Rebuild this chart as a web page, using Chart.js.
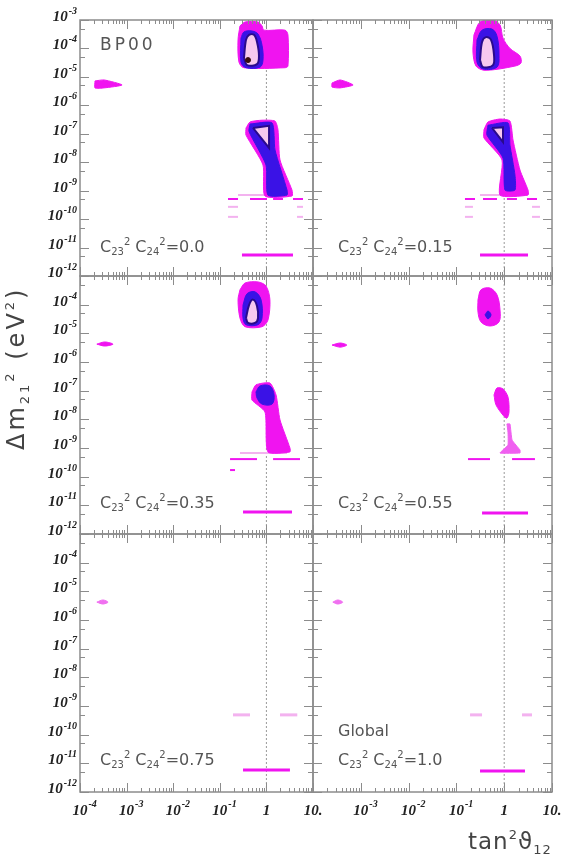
<!DOCTYPE html>
<html>
<head>
<meta charset="utf-8">
<script src="https://cdn.jsdelivr.net/npm/chart.js@4.4.1/dist/chart.umd.min.js"></script>
<style>
  body { margin: 0; background: #fff; }
  #fig { position: relative; width: 570px; height: 854px; overflow: hidden; }
  #fig canvas { position: absolute; left: 0; top: 0; }
  .lbl { position: absolute; font-family: 'DejaVu Sans', sans-serif; color: #555; font-size: 16px; line-height: 16px; white-space: nowrap; }
  .lbl sub, .lbl sup { font-size: 10px; line-height: 0; vertical-align: baseline; position: relative; }
  .lbl sub { top: 3px; }
  .lbl sup { top: -7px; }
  .title { position: absolute; font-family: 'DejaVu Sans', sans-serif; color: #444; font-size: 23px; line-height: 26px; white-space: nowrap; letter-spacing: 1px; }
  .title sub, .title sup { font-size: 13px; line-height: 0; vertical-align: baseline; position: relative; }
  .title sub { top: 5px; }
  .title sup { top: -10px; }
</style>
</head>
<body>
<div id="fig"></div>
<script>
// axis ranges and tick labels
const xMin = 1e-4, xMax = 10;
const yMin = 1e-12, yMax = 1e-3;
const xTickVals = [1e-4, 1e-3, 1e-2, 1e-1, 1, 10];
const xTickBase = ['10', '10', '10', '10', '1', '10.'];
const xTickExp = ['-4', '-3', '-2', '-1', '', ''];
const yTickVals = [1e-3, 1e-4, 1e-5, 1e-6, 1e-7, 1e-8, 1e-9, 1e-10, 1e-11, 1e-12];
const yTickExp = ['-3', '-4', '-5', '-6', '-7', '-8', '-9', '-10', '-11', '-12'];
const mixValues = ['0.0', '0.15', '0.35', '0.55', '0.75', '1.0'];

// panel 1 (C23^2 C24^2 = 0.0, BP00)
const p1LmaMag = [[0.271,6.2e-4],[0.348,8.5e-4],[0.661,8.5e-4],[0.805,6.2e-4],[0.887,4.4e-4],[2.51,4.4e-4],[2.90,3.0e-4],[2.90,2.4e-5],[2.51,2.1e-5],[0.330,2.1e-5],[0.258,3.3e-5],[0.246,2.0e-4]];
const p1LmaBlue = [[0.285,2.3e-4],[0.330,3.8e-4],[0.491,4.1e-4],[0.661,3.2e-4],[0.805,1.3e-4],[0.845,3.9e-5],[0.730,2.2e-5],[0.365,2.1e-5],[0.285,3.3e-5]];
const p1LmaPink = [[0.330,4.6e-5],[0.365,2.0e-4],[0.424,3.0e-4],[0.542,3.0e-4],[0.628,1.7e-4],[0.693,5.4e-5],[0.628,2.8e-5],[0.384,2.6e-5]];
const p1Best = [[0.403,3.9e-5]];
const p1Sma = [[2.1e-4,7.2e-6],[3.3e-4,7.8e-6],[8.0e-4,5.2e-6],[3.3e-4,4.1e-6],[2.1e-4,4.1e-6]];
const p1LowMag = [[0.365,1.6e-7],[0.445,2.6e-7],[0.805,3.0e-7],[1.53,2.8e-7],[1.77,1.4e-7],[1.96,1.2e-8],[3.54,1.05e-9],[3.54,6.5e-10],[0.933,6.5e-10],[0.845,8.0e-9],[0.365,9.0e-8]];
const p1LowBlue = [[0.445,2.2e-7],[1.32,2.4e-7],[1.53,2.7e-8],[2.77,1.05e-9],[2.77,7.0e-10],[1.08,7.0e-10],[0.98,8.0e-9],[0.424,1.2e-7]];
const p1LowPink = [[0.515,1.6e-7],[1.14,1.9e-7],[1.14,3.2e-8]];
const p1Light = [[0.246,3.72,7.0e-10],[0.150,0.246,2.7e-10],[4.54,6.1,2.7e-10],[0.150,0.246,1.2e-10],[4.54,6.1,1.2e-10]];
const p1Dash = [[0.150,0.246,5.1e-10],[0.445,1.03,5.1e-10],[1.39,2.27,5.1e-10],[3.72,6.1,5.1e-10]];
const p1Band = [[0.299,3.72,5.5e-12]];

// panel 2 (0.15)
const p2LmaMag = [[0.233,3.0e-4],[0.312,8.5e-4],[0.583,1.0e-3],[0.817,6.7e-4],[0.944,2.3e-4],[1.32,1.0e-4],[2.14,5.4e-5],[2.25,3.1e-5],[1.68,2.4e-5],[0.397,1.7e-5],[0.257,2.4e-5],[0.222,7.5e-5]];
const p2LmaBlue = [[0.270,2.0e-4],[0.344,4.4e-4],[0.556,4.8e-4],[0.707,2.7e-4],[0.778,5.9e-5],[0.707,2.2e-5],[0.360,1.9e-5],[0.270,3.3e-5]];
const p2LmaPink = [[0.312,3.9e-5],[0.344,1.7e-4],[0.416,2.5e-4],[0.530,2.0e-4],[0.612,5.9e-5],[0.583,2.6e-5],[0.360,2.2e-5]];
const p2Sma = [[2.5e-4,6.1e-6],[3.7e-4,7.8e-6],[6.9e-4,5.2e-6],[3.7e-4,4.1e-6],[2.5e-4,4.4e-6]];
const p2LowMag = [[0.378,1.4e-7],[0.458,2.6e-7],[0.817,3.3e-7],[1.32,2.8e-7],[1.53,6.0e-8],[2.14,5.3e-9],[3.15,1.05e-9],[3.15,7.0e-10],[0.817,7.0e-10],[0.90,1.2e-8],[0.378,7.1e-8]];
const p2LowBlue = [[0.458,2.0e-7],[1.20,2.4e-7],[1.32,4.0e-8],[1.68,3.5e-9],[1.68,1.05e-9],[1.04,1.05e-9],[0.944,1.4e-8],[0.436,9.0e-8]];
const p2LowPink = [[0.556,1.6e-7],[0.944,1.7e-7],[0.944,5.1e-8]];
const p2Light = [[0.312,3.0,7.0e-10],[0.151,0.222,2.7e-10],[3.82,5.6,2.7e-10],[0.151,0.222,1.2e-10],[3.82,5.6,1.2e-10]];
const p2Dash = [[0.151,0.245,5.1e-10],[0.360,0.707,5.1e-10],[1.14,1.85,5.1e-10],[3.0,4.86,5.1e-10]];
const p2Band = [[0.312,3.15,5.5e-12]];

// panel 3 (0.35)
const p3LmaMag = [[0.271,3.3e-4],[0.348,5.7e-4],[0.661,6.2e-4],[0.98,4.5e-4],[1.19,1.5e-4],[1.08,2.9e-5],[0.805,1.7e-5],[0.348,1.7e-5],[0.271,3.4e-5],[0.246,1.5e-4]];
const p3LmaBlue = [[0.315,9.7e-5],[0.384,2.4e-4],[0.569,2.8e-4],[0.766,1.5e-4],[0.805,3.4e-5],[0.661,2.0e-5],[0.365,2.0e-5],[0.315,3.4e-5]];
const p3LmaPink = [[0.365,3.4e-5],[0.424,9.7e-5],[0.515,1.5e-4],[0.628,9.0e-5],[0.661,3.4e-5],[0.569,2.3e-5],[0.403,2.3e-5]];
const p3Sma = [[2.3e-4,4.2e-6],[3.4e-4,5.0e-6],[5.1e-4,4.2e-6],[3.4e-4,3.6e-6]];
const p3LowMag = [[0.491,9.0e-8],[0.598,1.6e-7],[1.19,1.85e-7],[1.61,7.1e-8],[1.96,9.5e-9],[3.2,1.0e-9],[3.2,7.3e-10],[1.08,7.3e-10],[0.933,1.8e-8],[0.491,4.7e-8]];
const p3LowBlue = [[0.598,9.0e-8],[0.73,1.46e-7],[1.19,1.46e-7],[1.46,7.1e-8],[1.32,3.4e-8],[0.805,3.4e-8],[0.628,5.6e-8]];
const p3Light = [[0.271,2.77,6.7e-10]];
const p3Dash = [[0.166,0.628,4.1e-10],[1.39,5.26,4.1e-10],[0.166,0.212,1.7e-10]];
const p3Band = [[0.315,3.54,5.9e-12]];

// panel 4 (0.55)
const p4LmaMag = [[0.283,1.5e-4],[0.327,3.3e-4],[0.505,3.8e-4],[0.707,2.2e-4],[0.817,6.5e-5],[0.778,2.5e-5],[0.505,1.8e-5],[0.327,2.5e-5],[0.283,5.5e-5]];
const p4LmaBlue = [[0.397,4.4e-5],[0.458,6.0e-5],[0.530,4.4e-5],[0.458,3.2e-5]];
const p4Sma = [[2.5e-4,3.9e-6],[3.7e-4,4.6e-6],[5.1e-4,3.9e-6],[3.7e-4,3.3e-6]];
const p4LowMag = [[0.612,7.1e-8],[0.707,1.24e-7],[0.944,1.15e-7],[1.20,6.0e-8],[1.26,1.8e-8],[1.14,1.1e-8],[0.944,1.4e-8],[0.673,3.2e-8]];
const p4Tail = [[1.14,6.9e-9],[1.32,6.9e-9],[1.46,1.9e-9],[2.14,8.5e-10],[2.14,6.7e-10],[0.817,6.7e-10],[1.20,1.27e-9],[1.20,3.6e-9]];
const p4Dash = [[0.175,0.505,4.1e-10],[1.46,4.4,4.1e-10]];
const p4Band = [[0.344,3.15,5.4e-12]];

// panel 5 (0.75)
const p5Sma = [[2.3e-4,4.2e-6],[3.1e-4,5.0e-6],[4.0e-4,4.2e-6],[3.1e-4,3.6e-6]];
const p5Light = [[0.192,0.445,4.9e-10],[1.96,4.6,4.9e-10]];
const p5Band = [[0.315,3.2,5.9e-12]];

// panel 6 (1.0, Global)
const p6Sma = [[2.6e-4,4.2e-6],[3.3e-4,5.0e-6],[4.2e-4,4.2e-6],[3.3e-4,3.6e-6]];
const p6Light = [[0.193,0.344,4.9e-10],[2.36,3.82,4.9e-10]];
const p6Band = [[0.312,2.72,5.4e-12]];

// layout of the 3x2 grid
const colLeft = [80, 313], colRight = [313, 552];
const rowTop = [20, 276, 534], rowBottom = [276, 534, 792];

const MAG = '#f014f0', BLUE = '#3a12e6', NAVY = '#2a0a8c', PINK = '#f7c8ef', LIGHT = '#f3b2ef';

function poly(pts, fillColor, lineColor, width, tension, order) {
  const data = pts.map(p => ({ x: p[0], y: p[1] }));
  data.push(data[0]);
  return { data, fill: 'shape', backgroundColor: fillColor, borderColor: lineColor,
    borderWidth: width, tension, pointRadius: 0, order };
}
function stripes(list, color, width, order) {
  return list.map(s => ({ data: [{ x: s[0], y: s[2] }, { x: s[1], y: s[2] }],
    borderColor: color, borderWidth: width, pointRadius: 0, fill: false, order }));
}

const unity = { data: [{ x: 1, y: yMin }, { x: 1, y: yMax }], borderColor: '#9a9a9a',
  borderWidth: 1, borderDash: [2, 2], pointRadius: 0, fill: false, order: 20 };

const panelSets = [
  [poly(p1LmaMag, MAG, MAG, 1, 0.3, 5), poly(p1LmaBlue, BLUE, BLUE, 1, 0.35, 4), poly(p1LmaPink, PINK, NAVY, 2, 0.35, 3),
   { data: p1Best.map(p => ({ x: p[0], y: p[1] })), pointRadius: 2.5, backgroundColor: '#3a1010', borderColor: '#3a1010', showLine: false, order: 1 },
   poly(p1Sma, MAG, MAG, 1, 0.2, 5),
   poly(p1LowMag, MAG, MAG, 1, 0.2, 5), poly(p1LowBlue, BLUE, BLUE, 1, 0.2, 4), poly(p1LowPink, PINK, NAVY, 2, 0, 3),
   ...stripes(p1Light, LIGHT, 2, 6), ...stripes(p1Dash, MAG, 2, 6), ...stripes(p1Band, MAG, 3, 6)],
  [poly(p2LmaMag, MAG, MAG, 1, 0.3, 5), poly(p2LmaBlue, BLUE, BLUE, 1, 0.35, 4), poly(p2LmaPink, PINK, NAVY, 2, 0.35, 3),
   poly(p2Sma, MAG, MAG, 1, 0.2, 5),
   poly(p2LowMag, MAG, MAG, 1, 0.2, 5), poly(p2LowBlue, BLUE, BLUE, 1, 0.2, 4), poly(p2LowPink, PINK, NAVY, 2, 0, 3),
   ...stripes(p2Light, LIGHT, 2, 6), ...stripes(p2Dash, MAG, 2, 6), ...stripes(p2Band, MAG, 3, 6)],
  [poly(p3LmaMag, MAG, MAG, 1, 0.3, 5), poly(p3LmaBlue, BLUE, BLUE, 1, 0.35, 4), poly(p3LmaPink, PINK, NAVY, 2, 0.35, 3),
   poly(p3Sma, MAG, MAG, 1, 0.3, 5),
   poly(p3LowMag, MAG, MAG, 1, 0.2, 5), poly(p3LowBlue, BLUE, BLUE, 1, 0.35, 4),
   ...stripes(p3Light, LIGHT, 2, 6), ...stripes(p3Dash, MAG, 2, 6), ...stripes(p3Band, MAG, 3, 6)],
  [poly(p4LmaMag, MAG, MAG, 1, 0.35, 5), poly(p4LmaBlue, BLUE, BLUE, 1, 0.35, 4),
   poly(p4Sma, MAG, MAG, 1, 0.3, 5),
   poly(p4LowMag, MAG, MAG, 1, 0.3, 5), poly(p4Tail, '#f060f0', '#f060f0', 1, 0.1, 5),
   ...stripes(p4Dash, MAG, 2, 6), ...stripes(p4Band, MAG, 3, 6)],
  [poly(p5Sma, '#f070f0', '#f070f0', 1, 0.3, 5),
   ...stripes(p5Light, LIGHT, 3, 6), ...stripes(p5Band, MAG, 3, 6)],
  [poly(p6Sma, '#f070f0', '#f070f0', 1, 0.3, 5),
   ...stripes(p6Light, LIGHT, 3, 6), ...stripes(p6Band, MAG, 3, 6)]
];

// frame, inward ticks and tick labels, drawn from each panel's scales
const framePlugin = {
  id: 'frame',
  afterDatasetsDraw(chart, args, opts) {
    const { ctx, chartArea: a, scales: { x, y } } = chart;
    ctx.save();
    ctx.strokeStyle = '#8c8c8c';
    ctx.lineWidth = 1;
    ctx.beginPath();
    for (let d = 0; d < xTickVals.length; d++) {
      for (let m = 1; m <= 9; m++) {
        const v = xTickVals[d] * m;
        if (v > xMax) break;
        const px = Math.round(x.getPixelForValue(v)) + 0.5;
        const len = m === 1 ? 9 : 4;
        ctx.moveTo(px, a.bottom); ctx.lineTo(px, a.bottom - len);
        ctx.moveTo(px, a.top); ctx.lineTo(px, a.top + len);
      }
    }
    for (let d = 0; d < yTickVals.length; d++) {
      const v = yTickVals[d];
      const py = Math.round(y.getPixelForValue(v)) + 0.5;
      ctx.moveTo(a.left, py); ctx.lineTo(a.left + 9, py);
      ctx.moveTo(a.right, py); ctx.lineTo(a.right - 9, py);
      if (v > yMin) {
        const pm = Math.round(y.getPixelForValue(v / 2)) + 0.5;
        ctx.moveTo(a.left, pm); ctx.lineTo(a.left + 5, pm);
        ctx.moveTo(a.right, pm); ctx.lineTo(a.right - 5, pm);
      }
    }
    ctx.stroke();
    ctx.lineWidth = 1.5;
    ctx.strokeRect(a.left, a.top, a.right - a.left, a.bottom - a.top);
    ctx.restore();
  },
  afterDraw(chart, args, opts) {
    const { ctx, chartArea: a, scales: { x, y } } = chart;
    ctx.save();
    ctx.fillStyle = '#222';
    ctx.textBaseline = 'alphabetic';
    const big = 'italic bold 15px "Liberation Serif"', small = 'italic bold 10px "Liberation Serif"';
    if (opts.yLabels) {
      yTickVals.forEach((v, i) => {
        if (!opts.firstRow && i === 0) return;
        const py = y.getPixelForValue(v);
        ctx.font = small; const we = ctx.measureText(yTickExp[i]).width;
        ctx.font = big; const wb = ctx.measureText('10').width;
        const x0 = a.left - 4 - we - wb;
        ctx.fillText('10', x0, py + 1);
        ctx.font = small; ctx.fillText(yTickExp[i], x0 + wb + 1, py - 6);
      });
    }
    if (opts.xLabels) {
      xTickVals.forEach((v, i) => {
        if (!opts.firstCol && i === 0) return;
        const px = x.getPixelForValue(v);
        ctx.font = big; const wb = ctx.measureText(xTickBase[i]).width;
        const x0 = px - wb / 2;
        ctx.fillText(xTickBase[i], x0, a.bottom + 23);
        ctx.font = small; ctx.fillText(xTickExp[i], x0 + wb + 1, a.bottom + 15);
      });
    }
    ctx.restore();
  }
};

const fig = document.getElementById('fig');
for (let p = 0; p < 6; p++) {
  const r = Math.floor(p / 2), c = p % 2;
  const cv = document.createElement('canvas');
  cv.width = 570; cv.height = 854;
  fig.appendChild(cv);
  new Chart(cv, {
    type: 'line',
    data: { datasets: [unity, ...panelSets[p]] },
    options: {
      responsive: false, animation: false, devicePixelRatio: 1, events: [],
      layout: { padding: { left: colLeft[c], top: rowTop[r], right: 570 - colRight[c], bottom: 854 - rowBottom[r] } },
      plugins: {
        legend: { display: false }, tooltip: { enabled: false },
        frame: { yLabels: c === 0, firstRow: r === 0, xLabels: r === 2, firstCol: c === 0 }
      },
      scales: {
        x: { type: 'logarithmic', min: xMin, max: xMax, display: false },
        y: { type: 'logarithmic', min: yMin, max: yMax, display: false }
      }
    },
    plugins: [framePlugin]
  });
}

// panel notes and axis titles
function addLabel(html, left, top, cls) {
  const d = document.createElement('div');
  d.className = cls || 'lbl';
  d.innerHTML = html;
  d.style.left = left + 'px';
  d.style.top = top + 'px';
  fig.appendChild(d);
  return d;
}
const noteLeft = [100, 338], noteTop = [239, 495, 752];
for (let p = 0; p < 6; p++) {
  const r = Math.floor(p / 2), c = p % 2;
  addLabel('C<sub>23</sub><sup>2</sup> C<sub>24</sub><sup>2</sup>=' + mixValues[p], noteLeft[c], noteTop[r]);
}
const bp = addLabel('BP00', 100, 36);
bp.style.fontSize = '17px'; bp.style.letterSpacing = '3px';
addLabel('Global', 338, 723);
addLabel('tan<sup>2</sup>ϑ<sub>12</sub>', 468, 828, 'title');
const yt = addLabel('Δm<sub>21</sub><sup>2</sup> (eV<sup>2</sup>)', 3, 450, 'title');
yt.style.transformOrigin = '0 0';
yt.style.transform = 'rotate(-90deg)';
yt.style.fontSize = '24px';
yt.style.letterSpacing = '3px';
</script>
</body>
</html>
